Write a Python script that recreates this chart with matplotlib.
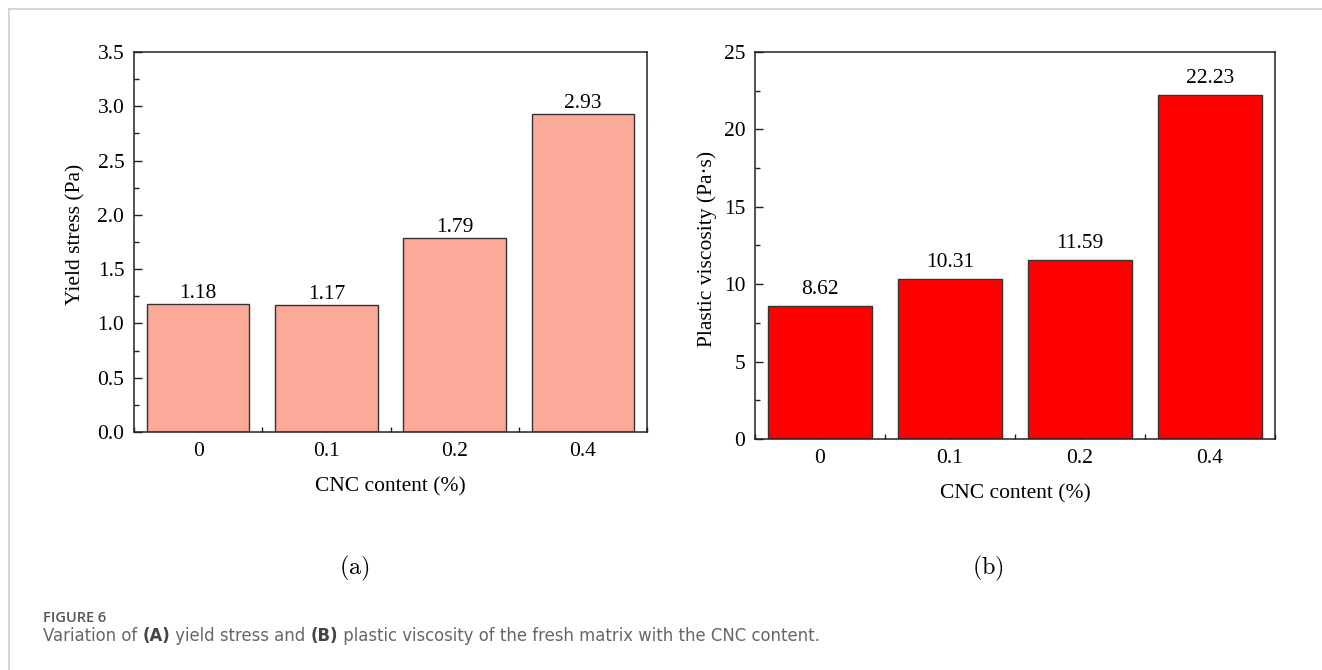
import numpy as np
import matplotlib
matplotlib.use("Agg")
import matplotlib.pyplot as plt
from matplotlib.lines import Line2D
from matplotlib.ticker import MultipleLocator, FormatStrFormatter

# data
cnc_content = ["0", "0.1", "0.2", "0.4"]
yield_stress = [1.18, 1.17, 1.79, 2.93]
plastic_viscosity = [8.62, 10.31, 11.59, 22.23]

plt.rcParams["font.family"] = ["Liberation Serif", "DejaVu Serif"]
plt.rcParams["mathtext.fontset"] = "cm"

fig = plt.figure(figsize=(13.22, 6.70), dpi=100)

ax1 = fig.add_axes([0.1014, 0.3552, 0.3880, 0.5672])
ax2 = fig.add_axes([0.5711, 0.3448, 0.3933, 0.5776])


def draw_panel(ax, values, color, ylim, major, minor, ylabel, label_gap):
    x = np.arange(len(cnc_content))
    ax.bar(x, values, width=0.8, color=color, edgecolor="#333333", linewidth=1.0, zorder=2)
    for xi, v in zip(x, values):
        ax.text(xi, v + label_gap, "{:.2f}".format(v), ha="center", va="bottom", fontsize=15.5)
    ax.set_xlim(-0.5, len(cnc_content) - 0.5)
    ax.set_ylim(*ylim)
    ax.set_xticks(x)
    ax.set_xticklabels(cnc_content)
    ax.xaxis.set_minor_locator(MultipleLocator(1, offset=0.5))
    ax.yaxis.set_major_locator(MultipleLocator(major))
    ax.yaxis.set_minor_locator(MultipleLocator(minor))
    ax.tick_params(which="both", direction="in", top=False, right=False,
                   labelsize=15.5, width=1.0, color="#222222")
    ax.tick_params(which="major", length=6, pad=7)
    ax.tick_params(which="minor", length=3.5)
    for s in ax.spines.values():
        s.set_linewidth(1.1)
        s.set_color("#222222")
    ax.set_xlabel("CNC content (%)", fontsize=15.5)
    ax.set_ylabel(ylabel, fontsize=15.5)
    ax.xaxis.set_label_coords(0.5, -0.118)


draw_panel(ax1, yield_stress, "#FBAA9A", (0, 3.5), 0.5, 0.25,
           "Yield stress (Pa)", 0.01)
ax1.yaxis.set_major_formatter(FormatStrFormatter("%.1f"))
ax1.yaxis.set_label_coords(-0.094, 0.52)

draw_panel(ax2, plastic_viscosity, "#FF0000", (0, 25), 5, 2.5,
           "Plastic viscosity (Pa\u00b7s)", 0.45)
ax2.yaxis.set_label_coords(-0.073, 0.49)

fig.text(0.2678, 0.1522, r"$\mathrm{(a)}$", fontsize=17.5, ha="center", va="center")
fig.text(0.7474, 0.1522, r"$\mathrm{(b)}$", fontsize=17.5, ha="center", va="center")

# light page frame
fig.add_artist(Line2D([0.0068, 0.0068], [0.0, 0.9866], transform=fig.transFigure,
                      color="#d0d0d0", linewidth=1.2))
fig.add_artist(Line2D([0.0068, 1.0], [0.9866, 0.9866], transform=fig.transFigure,
                      color="#d0d0d0", linewidth=1.2))

# caption
fig.text(0.0325, 0.0716, "FIGURE 6", fontsize=10.5, family=["Open Sans", "DejaVu Sans"],
         fontweight="semibold", color="#555555", va="baseline")

cap_font = ["DejaVu Sans"]
cap_ax = fig.add_axes([0, 0, 1, 1], frameon=False)
cap_ax.set_axis_off()
pieces = [("Variation of ", "normal"), ("(A)", "bold"), (" yield stress and ", "normal"),
          ("(B)", "bold"), (" plastic viscosity of the fresh matrix with the CNC content.", "normal")]
prev = cap_ax.text(0.0325, 0.0433, pieces[0][0], transform=fig.transFigure,
                   fontsize=11.9, family=cap_font, color="#666666", va="baseline")
for txt, w in pieces[1:]:
    prev = cap_ax.annotate(txt, xy=(1, 0), xycoords=prev, va="bottom", ha="left",
                           fontsize=11.9, family=cap_font, fontweight=w,
                           color="#444444" if w == "bold" else "#666666")

fig.savefig("out.png", dpi=100)
